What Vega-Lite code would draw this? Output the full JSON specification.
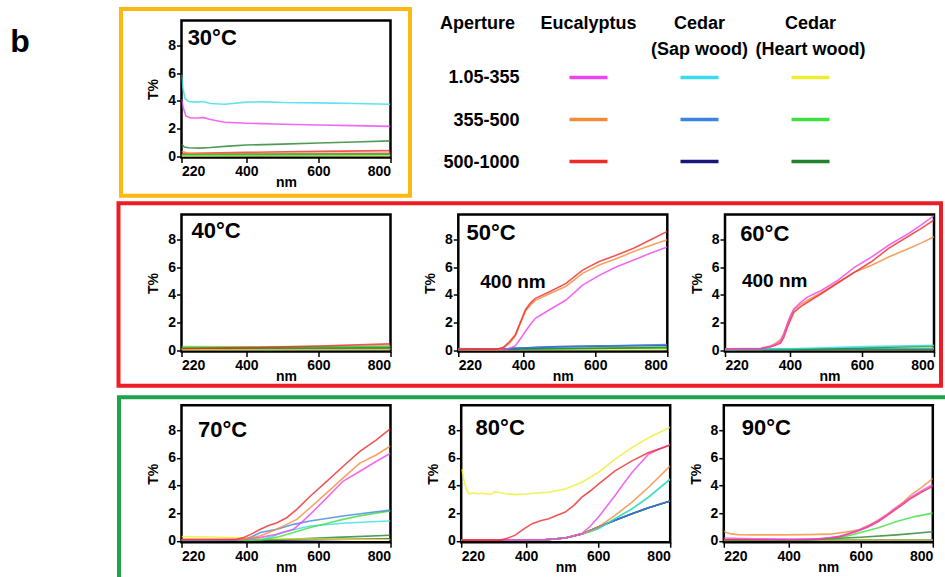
{
"$schema": "https://vega.github.io/schema/vega-lite/v6.json",
"background": "white",
"padding": {"left": 8, "top": 5.5, "right": 0, "bottom": 0},
"config": {
  "font": "Liberation Sans",
  "view": {"stroke": null},
  "axis": {"grid": false, "domain": false, "labelOverlap": false, "tickCount": 10, "labelFont": "Liberation Sans", "labelFontSize": 14, "labelFontWeight": "bold", "labelColor": "#000", "titleFont": "Liberation Sans", "titleFontSize": 14, "titleFontWeight": "bold", "titleColor": "#000", "tickColor": "#000", "tickWidth": 1.5, "tickSize": 5, "labelPadding": 1},
  "axisY": {"titlePadding": 7},
  "axisX": {"titlePadding": -3, "labelPadding": 2},
  "text": {"font": "Liberation Sans", "color": "#000"}
},
"datasets": {
"spectra": [
{"T":30,"s":"Sap wood 1.05-355","nm":220,"v":5.9},{"T":30,"s":"Sap wood 1.05-355","nm":224,"v":4.9},{"T":30,"s":"Sap wood 1.05-355","nm":230,"v":4.15},{"T":30,"s":"Sap wood 1.05-355","nm":240,"v":3.95},{"T":30,"s":"Sap wood 1.05-355","nm":260,"v":3.9},{"T":30,"s":"Sap wood 1.05-355","nm":280,"v":3.95},{"T":30,"s":"Sap wood 1.05-355","nm":300,"v":3.8},{"T":30,"s":"Sap wood 1.05-355","nm":340,"v":3.75},{"T":30,"s":"Sap wood 1.05-355","nm":400,"v":3.9},{"T":30,"s":"Sap wood 1.05-355","nm":450,"v":3.92},{"T":30,"s":"Sap wood 1.05-355","nm":500,"v":3.87},{"T":30,"s":"Sap wood 1.05-355","nm":600,"v":3.85},{"T":30,"s":"Sap wood 1.05-355","nm":700,"v":3.8},{"T":30,"s":"Sap wood 1.05-355","nm":800,"v":3.75},
{"T":30,"s":"Eucalyptus 1.05-355","nm":220,"v":4.1},{"T":30,"s":"Eucalyptus 1.05-355","nm":225,"v":3.5},{"T":30,"s":"Eucalyptus 1.05-355","nm":232,"v":2.9},{"T":30,"s":"Eucalyptus 1.05-355","nm":245,"v":2.75},{"T":30,"s":"Eucalyptus 1.05-355","nm":265,"v":2.75},{"T":30,"s":"Eucalyptus 1.05-355","nm":280,"v":2.8},{"T":30,"s":"Eucalyptus 1.05-355","nm":300,"v":2.65},{"T":30,"s":"Eucalyptus 1.05-355","nm":340,"v":2.45},{"T":30,"s":"Eucalyptus 1.05-355","nm":400,"v":2.38},{"T":30,"s":"Eucalyptus 1.05-355","nm":500,"v":2.3},{"T":30,"s":"Eucalyptus 1.05-355","nm":600,"v":2.25},{"T":30,"s":"Eucalyptus 1.05-355","nm":700,"v":2.2},{"T":30,"s":"Eucalyptus 1.05-355","nm":800,"v":2.15},
{"T":30,"s":"Heart wood 500-1000","nm":220,"v":0.85},{"T":30,"s":"Heart wood 500-1000","nm":228,"v":0.65},{"T":30,"s":"Heart wood 500-1000","nm":240,"v":0.6},{"T":30,"s":"Heart wood 500-1000","nm":270,"v":0.58},{"T":30,"s":"Heart wood 500-1000","nm":300,"v":0.62},{"T":30,"s":"Heart wood 500-1000","nm":350,"v":0.72},{"T":30,"s":"Heart wood 500-1000","nm":400,"v":0.8},{"T":30,"s":"Heart wood 500-1000","nm":500,"v":0.87},{"T":30,"s":"Heart wood 500-1000","nm":600,"v":0.95},{"T":30,"s":"Heart wood 500-1000","nm":700,"v":1.02},{"T":30,"s":"Heart wood 500-1000","nm":800,"v":1.1},
{"T":30,"s":"Eucalyptus 500-1000","nm":220,"v":0.18},{"T":30,"s":"Eucalyptus 500-1000","nm":400,"v":0.27},{"T":30,"s":"Eucalyptus 500-1000","nm":600,"v":0.34},{"T":30,"s":"Eucalyptus 500-1000","nm":800,"v":0.4},
{"T":30,"s":"Eucalyptus 355-500","nm":220,"v":0.35},{"T":30,"s":"Eucalyptus 355-500","nm":240,"v":0.2},{"T":30,"s":"Eucalyptus 355-500","nm":400,"v":0.18},{"T":30,"s":"Eucalyptus 355-500","nm":600,"v":0.2},{"T":30,"s":"Eucalyptus 355-500","nm":800,"v":0.22},
{"T":30,"s":"Sap wood 355-500","nm":220,"v":0.05},{"T":30,"s":"Sap wood 355-500","nm":500,"v":0.07},{"T":30,"s":"Sap wood 355-500","nm":800,"v":0.1},
{"T":30,"s":"Sap wood 500-1000","nm":220,"v":0.1},{"T":30,"s":"Sap wood 500-1000","nm":800,"v":0.14},
{"T":30,"s":"Heart wood 1.05-355","nm":220,"v":0.02},{"T":30,"s":"Heart wood 1.05-355","nm":800,"v":0.03},
{"T":30,"s":"Heart wood 355-500","nm":220,"v":0.1},{"T":30,"s":"Heart wood 355-500","nm":800,"v":0.12},

{"T":40,"s":"Eucalyptus 1.05-355","nm":220,"v":0.08},{"T":40,"s":"Eucalyptus 1.05-355","nm":800,"v":0.15},
{"T":40,"s":"Eucalyptus 355-500","nm":220,"v":0.1},{"T":40,"s":"Eucalyptus 355-500","nm":500,"v":0.18},{"T":40,"s":"Eucalyptus 355-500","nm":800,"v":0.3},
{"T":40,"s":"Sap wood 1.05-355","nm":220,"v":0.1},{"T":40,"s":"Sap wood 1.05-355","nm":800,"v":0.12},
{"T":40,"s":"Sap wood 355-500","nm":220,"v":0.06},{"T":40,"s":"Sap wood 355-500","nm":800,"v":0.1},
{"T":40,"s":"Sap wood 500-1000","nm":220,"v":0.05},{"T":40,"s":"Sap wood 500-1000","nm":800,"v":0.08},
{"T":40,"s":"Heart wood 1.05-355","nm":220,"v":0.03},{"T":40,"s":"Heart wood 1.05-355","nm":800,"v":0.05},
{"T":40,"s":"Heart wood 500-1000","nm":220,"v":0.15},{"T":40,"s":"Heart wood 500-1000","nm":800,"v":0.2},
{"T":40,"s":"Heart wood 355-500","nm":220,"v":0.25},{"T":40,"s":"Heart wood 355-500","nm":400,"v":0.24},{"T":40,"s":"Heart wood 355-500","nm":600,"v":0.25},{"T":40,"s":"Heart wood 355-500","nm":800,"v":0.28},
{"T":40,"s":"Eucalyptus 500-1000","nm":220,"v":0.12},{"T":40,"s":"Eucalyptus 500-1000","nm":400,"v":0.18},{"T":40,"s":"Eucalyptus 500-1000","nm":600,"v":0.3},{"T":40,"s":"Eucalyptus 500-1000","nm":800,"v":0.45},

{"T":50,"s":"Heart wood 1.05-355","nm":220,"v":0.02},{"T":50,"s":"Heart wood 1.05-355","nm":800,"v":0.05},
{"T":50,"s":"Sap wood 1.05-355","nm":220,"v":0.12},{"T":50,"s":"Sap wood 1.05-355","nm":300,"v":0.1},{"T":50,"s":"Sap wood 1.05-355","nm":400,"v":0.1},{"T":50,"s":"Sap wood 1.05-355","nm":800,"v":0.15},
{"T":50,"s":"Heart wood 355-500","nm":220,"v":0.05},{"T":50,"s":"Heart wood 355-500","nm":400,"v":0.08},{"T":50,"s":"Heart wood 355-500","nm":600,"v":0.15},{"T":50,"s":"Heart wood 355-500","nm":800,"v":0.22},
{"T":50,"s":"Heart wood 500-1000","nm":220,"v":0.05},{"T":50,"s":"Heart wood 500-1000","nm":500,"v":0.1},{"T":50,"s":"Heart wood 500-1000","nm":800,"v":0.18},
{"T":50,"s":"Sap wood 500-1000","nm":220,"v":0.05},{"T":50,"s":"Sap wood 500-1000","nm":350,"v":0.1},{"T":50,"s":"Sap wood 500-1000","nm":500,"v":0.25},{"T":50,"s":"Sap wood 500-1000","nm":800,"v":0.35},
{"T":50,"s":"Sap wood 355-500","nm":220,"v":0.05},{"T":50,"s":"Sap wood 355-500","nm":350,"v":0.1},{"T":50,"s":"Sap wood 355-500","nm":450,"v":0.2},{"T":50,"s":"Sap wood 355-500","nm":600,"v":0.3},{"T":50,"s":"Sap wood 355-500","nm":800,"v":0.4},
{"T":50,"s":"Eucalyptus 1.05-355","nm":220,"v":0.05},{"T":50,"s":"Eucalyptus 1.05-355","nm":345,"v":0.05},{"T":50,"s":"Eucalyptus 1.05-355","nm":362,"v":0.12},{"T":50,"s":"Eucalyptus 1.05-355","nm":378,"v":0.3},{"T":50,"s":"Eucalyptus 1.05-355","nm":392,"v":0.8},{"T":50,"s":"Eucalyptus 1.05-355","nm":406,"v":1.34},{"T":50,"s":"Eucalyptus 1.05-355","nm":420,"v":1.85},{"T":50,"s":"Eucalyptus 1.05-355","nm":434,"v":2.3},{"T":50,"s":"Eucalyptus 1.05-355","nm":472,"v":2.9},{"T":50,"s":"Eucalyptus 1.05-355","nm":518,"v":3.6},{"T":50,"s":"Eucalyptus 1.05-355","nm":565,"v":4.7},{"T":50,"s":"Eucalyptus 1.05-355","nm":611,"v":5.4},{"T":50,"s":"Eucalyptus 1.05-355","nm":658,"v":6.0},{"T":50,"s":"Eucalyptus 1.05-355","nm":705,"v":6.5},{"T":50,"s":"Eucalyptus 1.05-355","nm":751,"v":6.98},{"T":50,"s":"Eucalyptus 1.05-355","nm":800,"v":7.45},
{"T":50,"s":"Eucalyptus 355-500","nm":220,"v":0.05},{"T":50,"s":"Eucalyptus 355-500","nm":330,"v":0.05},{"T":50,"s":"Eucalyptus 355-500","nm":348,"v":0.2},{"T":50,"s":"Eucalyptus 355-500","nm":364,"v":0.55},{"T":50,"s":"Eucalyptus 355-500","nm":378,"v":1.0},{"T":50,"s":"Eucalyptus 355-500","nm":392,"v":1.9},{"T":50,"s":"Eucalyptus 355-500","nm":406,"v":2.8},{"T":50,"s":"Eucalyptus 355-500","nm":420,"v":3.25},{"T":50,"s":"Eucalyptus 355-500","nm":434,"v":3.6},{"T":50,"s":"Eucalyptus 355-500","nm":472,"v":4.05},{"T":50,"s":"Eucalyptus 355-500","nm":518,"v":4.6},{"T":50,"s":"Eucalyptus 355-500","nm":565,"v":5.55},{"T":50,"s":"Eucalyptus 355-500","nm":611,"v":6.15},{"T":50,"s":"Eucalyptus 355-500","nm":658,"v":6.6},{"T":50,"s":"Eucalyptus 355-500","nm":705,"v":7.1},{"T":50,"s":"Eucalyptus 355-500","nm":751,"v":7.55},{"T":50,"s":"Eucalyptus 355-500","nm":800,"v":7.98},
{"T":50,"s":"Eucalyptus 500-1000","nm":220,"v":0.05},{"T":50,"s":"Eucalyptus 500-1000","nm":325,"v":0.05},{"T":50,"s":"Eucalyptus 500-1000","nm":345,"v":0.2},{"T":50,"s":"Eucalyptus 500-1000","nm":362,"v":0.6},{"T":50,"s":"Eucalyptus 500-1000","nm":378,"v":1.1},{"T":50,"s":"Eucalyptus 500-1000","nm":392,"v":2.0},{"T":50,"s":"Eucalyptus 500-1000","nm":406,"v":2.9},{"T":50,"s":"Eucalyptus 500-1000","nm":420,"v":3.4},{"T":50,"s":"Eucalyptus 500-1000","nm":434,"v":3.74},{"T":50,"s":"Eucalyptus 500-1000","nm":472,"v":4.2},{"T":50,"s":"Eucalyptus 500-1000","nm":518,"v":4.8},{"T":50,"s":"Eucalyptus 500-1000","nm":565,"v":5.78},{"T":50,"s":"Eucalyptus 500-1000","nm":611,"v":6.4},{"T":50,"s":"Eucalyptus 500-1000","nm":658,"v":6.86},{"T":50,"s":"Eucalyptus 500-1000","nm":705,"v":7.34},{"T":50,"s":"Eucalyptus 500-1000","nm":751,"v":7.94},{"T":50,"s":"Eucalyptus 500-1000","nm":800,"v":8.58},

{"T":60,"s":"Heart wood 1.05-355","nm":220,"v":0.02},{"T":60,"s":"Heart wood 1.05-355","nm":800,"v":0.05},
{"T":60,"s":"Sap wood 500-1000","nm":220,"v":0.03},{"T":60,"s":"Sap wood 500-1000","nm":800,"v":0.08},
{"T":60,"s":"Sap wood 355-500","nm":220,"v":0.05},{"T":60,"s":"Sap wood 355-500","nm":800,"v":0.1},
{"T":60,"s":"Heart wood 355-500","nm":220,"v":0.05},{"T":60,"s":"Heart wood 355-500","nm":800,"v":0.15},
{"T":60,"s":"Heart wood 500-1000","nm":220,"v":0.03},{"T":60,"s":"Heart wood 500-1000","nm":400,"v":0.05},{"T":60,"s":"Heart wood 500-1000","nm":600,"v":0.15},{"T":60,"s":"Heart wood 500-1000","nm":800,"v":0.3},
{"T":60,"s":"Sap wood 1.05-355","nm":220,"v":0.05},{"T":60,"s":"Sap wood 1.05-355","nm":400,"v":0.1},{"T":60,"s":"Sap wood 1.05-355","nm":600,"v":0.25},{"T":60,"s":"Sap wood 1.05-355","nm":800,"v":0.35},
{"T":60,"s":"Eucalyptus 355-500","nm":220,"v":0.1},{"T":60,"s":"Eucalyptus 355-500","nm":320,"v":0.14},{"T":60,"s":"Eucalyptus 355-500","nm":345,"v":0.3},{"T":60,"s":"Eucalyptus 355-500","nm":360,"v":0.48},{"T":60,"s":"Eucalyptus 355-500","nm":374,"v":0.75},{"T":60,"s":"Eucalyptus 355-500","nm":383,"v":1.2},{"T":60,"s":"Eucalyptus 355-500","nm":393,"v":1.9},{"T":60,"s":"Eucalyptus 355-500","nm":402,"v":2.45},{"T":60,"s":"Eucalyptus 355-500","nm":411,"v":2.9},{"T":60,"s":"Eucalyptus 355-500","nm":430,"v":3.3},{"T":60,"s":"Eucalyptus 355-500","nm":449,"v":3.6},{"T":60,"s":"Eucalyptus 355-500","nm":487,"v":4.15},{"T":60,"s":"Eucalyptus 355-500","nm":533,"v":4.9},{"T":60,"s":"Eucalyptus 355-500","nm":580,"v":5.64},{"T":60,"s":"Eucalyptus 355-500","nm":627,"v":6.13},{"T":60,"s":"Eucalyptus 355-500","nm":674,"v":6.73},{"T":60,"s":"Eucalyptus 355-500","nm":730,"v":7.35},{"T":60,"s":"Eucalyptus 355-500","nm":765,"v":7.75},{"T":60,"s":"Eucalyptus 355-500","nm":800,"v":8.19},
{"T":60,"s":"Eucalyptus 500-1000","nm":220,"v":0.1},{"T":60,"s":"Eucalyptus 500-1000","nm":320,"v":0.12},{"T":60,"s":"Eucalyptus 500-1000","nm":345,"v":0.22},{"T":60,"s":"Eucalyptus 500-1000","nm":360,"v":0.35},{"T":60,"s":"Eucalyptus 500-1000","nm":374,"v":0.5},{"T":60,"s":"Eucalyptus 500-1000","nm":383,"v":0.9},{"T":60,"s":"Eucalyptus 500-1000","nm":393,"v":1.64},{"T":60,"s":"Eucalyptus 500-1000","nm":402,"v":2.2},{"T":60,"s":"Eucalyptus 500-1000","nm":411,"v":2.73},{"T":60,"s":"Eucalyptus 500-1000","nm":430,"v":3.15},{"T":60,"s":"Eucalyptus 500-1000","nm":449,"v":3.46},{"T":60,"s":"Eucalyptus 500-1000","nm":487,"v":4.07},{"T":60,"s":"Eucalyptus 500-1000","nm":533,"v":4.85},{"T":60,"s":"Eucalyptus 500-1000","nm":580,"v":5.64},{"T":60,"s":"Eucalyptus 500-1000","nm":627,"v":6.4},{"T":60,"s":"Eucalyptus 500-1000","nm":674,"v":7.35},{"T":60,"s":"Eucalyptus 500-1000","nm":730,"v":8.25},{"T":60,"s":"Eucalyptus 500-1000","nm":765,"v":8.8},{"T":60,"s":"Eucalyptus 500-1000","nm":800,"v":9.4},
{"T":60,"s":"Eucalyptus 1.05-355","nm":220,"v":0.1},{"T":60,"s":"Eucalyptus 1.05-355","nm":320,"v":0.12},{"T":60,"s":"Eucalyptus 1.05-355","nm":345,"v":0.25},{"T":60,"s":"Eucalyptus 1.05-355","nm":360,"v":0.4},{"T":60,"s":"Eucalyptus 1.05-355","nm":374,"v":0.65},{"T":60,"s":"Eucalyptus 1.05-355","nm":383,"v":1.1},{"T":60,"s":"Eucalyptus 1.05-355","nm":393,"v":1.9},{"T":60,"s":"Eucalyptus 1.05-355","nm":402,"v":2.5},{"T":60,"s":"Eucalyptus 1.05-355","nm":411,"v":2.98},{"T":60,"s":"Eucalyptus 1.05-355","nm":430,"v":3.45},{"T":60,"s":"Eucalyptus 1.05-355","nm":449,"v":3.83},{"T":60,"s":"Eucalyptus 1.05-355","nm":487,"v":4.31},{"T":60,"s":"Eucalyptus 1.05-355","nm":533,"v":5.04},{"T":60,"s":"Eucalyptus 1.05-355","nm":580,"v":6.0},{"T":60,"s":"Eucalyptus 1.05-355","nm":627,"v":6.73},{"T":60,"s":"Eucalyptus 1.05-355","nm":674,"v":7.58},{"T":60,"s":"Eucalyptus 1.05-355","nm":730,"v":8.44},{"T":60,"s":"Eucalyptus 1.05-355","nm":765,"v":9.05},{"T":60,"s":"Eucalyptus 1.05-355","nm":800,"v":9.72},

{"T":70,"s":"Sap wood 500-1000","nm":220,"v":0.03},{"T":70,"s":"Sap wood 500-1000","nm":500,"v":0.05},{"T":70,"s":"Sap wood 500-1000","nm":800,"v":0.15},
{"T":70,"s":"Heart wood 500-1000","nm":220,"v":0.03},{"T":70,"s":"Heart wood 500-1000","nm":450,"v":0.05},{"T":70,"s":"Heart wood 500-1000","nm":550,"v":0.15},{"T":70,"s":"Heart wood 500-1000","nm":650,"v":0.25},{"T":70,"s":"Heart wood 500-1000","nm":800,"v":0.4},
{"T":70,"s":"Heart wood 1.05-355","nm":220,"v":0.3},{"T":70,"s":"Heart wood 1.05-355","nm":300,"v":0.28},{"T":70,"s":"Heart wood 1.05-355","nm":380,"v":0.22},{"T":70,"s":"Heart wood 1.05-355","nm":450,"v":0.15},{"T":70,"s":"Heart wood 1.05-355","nm":800,"v":0.1},
{"T":70,"s":"Sap wood 1.05-355","nm":220,"v":0.05},{"T":70,"s":"Sap wood 1.05-355","nm":440,"v":0.08},{"T":70,"s":"Sap wood 1.05-355","nm":470,"v":0.3},{"T":70,"s":"Sap wood 1.05-355","nm":500,"v":0.6},{"T":70,"s":"Sap wood 1.05-355","nm":531,"v":0.8},{"T":70,"s":"Sap wood 1.05-355","nm":577,"v":1.07},{"T":70,"s":"Sap wood 1.05-355","nm":668,"v":1.27},{"T":70,"s":"Sap wood 1.05-355","nm":760,"v":1.4},{"T":70,"s":"Sap wood 1.05-355","nm":800,"v":1.43},
{"T":70,"s":"Heart wood 355-500","nm":220,"v":0.05},{"T":70,"s":"Heart wood 355-500","nm":420,"v":0.05},{"T":70,"s":"Heart wood 355-500","nm":450,"v":0.1},{"T":70,"s":"Heart wood 355-500","nm":490,"v":0.3},{"T":70,"s":"Heart wood 355-500","nm":531,"v":0.6},{"T":70,"s":"Heart wood 355-500","nm":577,"v":0.96},{"T":70,"s":"Heart wood 355-500","nm":623,"v":1.25},{"T":70,"s":"Heart wood 355-500","nm":668,"v":1.55},{"T":70,"s":"Heart wood 355-500","nm":714,"v":1.8},{"T":70,"s":"Heart wood 355-500","nm":760,"v":2.0},{"T":70,"s":"Heart wood 355-500","nm":800,"v":2.15},
{"T":70,"s":"Sap wood 355-500","nm":220,"v":0.05},{"T":70,"s":"Sap wood 355-500","nm":370,"v":0.05},{"T":70,"s":"Sap wood 355-500","nm":393,"v":0.1},{"T":70,"s":"Sap wood 355-500","nm":415,"v":0.3},{"T":70,"s":"Sap wood 355-500","nm":439,"v":0.6},{"T":70,"s":"Sap wood 355-500","nm":485,"v":0.84},{"T":70,"s":"Sap wood 355-500","nm":531,"v":1.19},{"T":70,"s":"Sap wood 355-500","nm":577,"v":1.43},{"T":70,"s":"Sap wood 355-500","nm":668,"v":1.79},{"T":70,"s":"Sap wood 355-500","nm":760,"v":2.1},{"T":70,"s":"Sap wood 355-500","nm":800,"v":2.22},
{"T":70,"s":"Eucalyptus 1.05-355","nm":220,"v":0.1},{"T":70,"s":"Eucalyptus 1.05-355","nm":390,"v":0.1},{"T":70,"s":"Eucalyptus 1.05-355","nm":440,"v":0.25},{"T":70,"s":"Eucalyptus 1.05-355","nm":485,"v":0.48},{"T":70,"s":"Eucalyptus 1.05-355","nm":531,"v":0.84},{"T":70,"s":"Eucalyptus 1.05-355","nm":554,"v":1.35},{"T":70,"s":"Eucalyptus 1.05-355","nm":577,"v":1.91},{"T":70,"s":"Eucalyptus 1.05-355","nm":623,"v":3.1},{"T":70,"s":"Eucalyptus 1.05-355","nm":668,"v":4.3},{"T":70,"s":"Eucalyptus 1.05-355","nm":714,"v":5.01},{"T":70,"s":"Eucalyptus 1.05-355","nm":760,"v":5.73},{"T":70,"s":"Eucalyptus 1.05-355","nm":800,"v":6.33},
{"T":70,"s":"Eucalyptus 355-500","nm":220,"v":0.1},{"T":70,"s":"Eucalyptus 355-500","nm":380,"v":0.1},{"T":70,"s":"Eucalyptus 355-500","nm":410,"v":0.2},{"T":70,"s":"Eucalyptus 355-500","nm":439,"v":0.36},{"T":70,"s":"Eucalyptus 355-500","nm":462,"v":0.6},{"T":70,"s":"Eucalyptus 355-500","nm":485,"v":0.85},{"T":70,"s":"Eucalyptus 355-500","nm":512,"v":1.19},{"T":70,"s":"Eucalyptus 355-500","nm":540,"v":1.55},{"T":70,"s":"Eucalyptus 355-500","nm":577,"v":2.39},{"T":70,"s":"Eucalyptus 355-500","nm":623,"v":3.46},{"T":70,"s":"Eucalyptus 355-500","nm":668,"v":4.53},{"T":70,"s":"Eucalyptus 355-500","nm":714,"v":5.6},{"T":70,"s":"Eucalyptus 355-500","nm":760,"v":6.2},{"T":70,"s":"Eucalyptus 355-500","nm":800,"v":6.85},
{"T":70,"s":"Eucalyptus 500-1000","nm":220,"v":0.1},{"T":70,"s":"Eucalyptus 500-1000","nm":370,"v":0.1},{"T":70,"s":"Eucalyptus 500-1000","nm":393,"v":0.24},{"T":70,"s":"Eucalyptus 500-1000","nm":415,"v":0.5},{"T":70,"s":"Eucalyptus 500-1000","nm":439,"v":0.84},{"T":70,"s":"Eucalyptus 500-1000","nm":462,"v":1.1},{"T":70,"s":"Eucalyptus 500-1000","nm":485,"v":1.31},{"T":70,"s":"Eucalyptus 500-1000","nm":512,"v":1.67},{"T":70,"s":"Eucalyptus 500-1000","nm":540,"v":2.27},{"T":70,"s":"Eucalyptus 500-1000","nm":577,"v":3.22},{"T":70,"s":"Eucalyptus 500-1000","nm":623,"v":4.3},{"T":70,"s":"Eucalyptus 500-1000","nm":668,"v":5.37},{"T":70,"s":"Eucalyptus 500-1000","nm":714,"v":6.45},{"T":70,"s":"Eucalyptus 500-1000","nm":760,"v":7.28},{"T":70,"s":"Eucalyptus 500-1000","nm":800,"v":8.1},

{"T":80,"s":"Heart wood 500-1000","nm":220,"v":0.05},{"T":80,"s":"Heart wood 500-1000","nm":450,"v":0.07},{"T":80,"s":"Heart wood 500-1000","nm":509,"v":0.2},{"T":80,"s":"Heart wood 500-1000","nm":555,"v":0.5},{"T":80,"s":"Heart wood 500-1000","nm":578,"v":0.75},{"T":80,"s":"Heart wood 500-1000","nm":601,"v":1.0},{"T":80,"s":"Heart wood 500-1000","nm":647,"v":1.48},{"T":80,"s":"Heart wood 500-1000","nm":694,"v":1.96},{"T":80,"s":"Heart wood 500-1000","nm":740,"v":2.39},{"T":80,"s":"Heart wood 500-1000","nm":800,"v":2.87},
{"T":80,"s":"Heart wood 355-500","nm":220,"v":0.05},{"T":80,"s":"Heart wood 355-500","nm":450,"v":0.07},{"T":80,"s":"Heart wood 355-500","nm":509,"v":0.2},{"T":80,"s":"Heart wood 355-500","nm":555,"v":0.5},{"T":80,"s":"Heart wood 355-500","nm":578,"v":0.68},{"T":80,"s":"Heart wood 355-500","nm":601,"v":0.88},{"T":80,"s":"Heart wood 355-500","nm":647,"v":1.6},{"T":80,"s":"Heart wood 355-500","nm":694,"v":2.31},{"T":80,"s":"Heart wood 355-500","nm":740,"v":3.15},{"T":80,"s":"Heart wood 355-500","nm":800,"v":4.46},
{"T":80,"s":"Sap wood 500-1000","nm":220,"v":0.05},{"T":80,"s":"Sap wood 500-1000","nm":450,"v":0.07},{"T":80,"s":"Sap wood 500-1000","nm":509,"v":0.2},{"T":80,"s":"Sap wood 500-1000","nm":555,"v":0.5},{"T":80,"s":"Sap wood 500-1000","nm":578,"v":0.75},{"T":80,"s":"Sap wood 500-1000","nm":601,"v":1.0},{"T":80,"s":"Sap wood 500-1000","nm":647,"v":1.48},{"T":80,"s":"Sap wood 500-1000","nm":694,"v":1.96},{"T":80,"s":"Sap wood 500-1000","nm":740,"v":2.39},{"T":80,"s":"Sap wood 500-1000","nm":800,"v":2.87},
{"T":80,"s":"Sap wood 355-500","nm":220,"v":0.05},{"T":80,"s":"Sap wood 355-500","nm":450,"v":0.07},{"T":80,"s":"Sap wood 355-500","nm":509,"v":0.2},{"T":80,"s":"Sap wood 355-500","nm":555,"v":0.5},{"T":80,"s":"Sap wood 355-500","nm":578,"v":0.75},{"T":80,"s":"Sap wood 355-500","nm":601,"v":1.0},{"T":80,"s":"Sap wood 355-500","nm":647,"v":1.48},{"T":80,"s":"Sap wood 355-500","nm":694,"v":1.96},{"T":80,"s":"Sap wood 355-500","nm":740,"v":2.39},{"T":80,"s":"Sap wood 355-500","nm":800,"v":2.87},
{"T":80,"s":"Sap wood 1.05-355","nm":220,"v":0.05},{"T":80,"s":"Sap wood 1.05-355","nm":450,"v":0.07},{"T":80,"s":"Sap wood 1.05-355","nm":509,"v":0.2},{"T":80,"s":"Sap wood 1.05-355","nm":555,"v":0.5},{"T":80,"s":"Sap wood 1.05-355","nm":578,"v":0.68},{"T":80,"s":"Sap wood 1.05-355","nm":601,"v":0.88},{"T":80,"s":"Sap wood 1.05-355","nm":647,"v":1.6},{"T":80,"s":"Sap wood 1.05-355","nm":694,"v":2.31},{"T":80,"s":"Sap wood 1.05-355","nm":740,"v":3.15},{"T":80,"s":"Sap wood 1.05-355","nm":800,"v":4.46},
{"T":80,"s":"Eucalyptus 355-500","nm":220,"v":0.05},{"T":80,"s":"Eucalyptus 355-500","nm":450,"v":0.07},{"T":80,"s":"Eucalyptus 355-500","nm":509,"v":0.2},{"T":80,"s":"Eucalyptus 355-500","nm":555,"v":0.5},{"T":80,"s":"Eucalyptus 355-500","nm":578,"v":0.75},{"T":80,"s":"Eucalyptus 355-500","nm":601,"v":1.0},{"T":80,"s":"Eucalyptus 355-500","nm":647,"v":1.84},{"T":80,"s":"Eucalyptus 355-500","nm":694,"v":2.79},{"T":80,"s":"Eucalyptus 355-500","nm":740,"v":3.87},{"T":80,"s":"Eucalyptus 355-500","nm":800,"v":5.42},
{"T":80,"s":"Eucalyptus 1.05-355","nm":220,"v":0.05},{"T":80,"s":"Eucalyptus 1.05-355","nm":450,"v":0.08},{"T":80,"s":"Eucalyptus 1.05-355","nm":486,"v":0.15},{"T":80,"s":"Eucalyptus 1.05-355","nm":509,"v":0.22},{"T":80,"s":"Eucalyptus 1.05-355","nm":532,"v":0.35},{"T":80,"s":"Eucalyptus 1.05-355","nm":555,"v":0.52},{"T":80,"s":"Eucalyptus 1.05-355","nm":578,"v":1.05},{"T":80,"s":"Eucalyptus 1.05-355","nm":601,"v":1.72},{"T":80,"s":"Eucalyptus 1.05-355","nm":624,"v":2.5},{"T":80,"s":"Eucalyptus 1.05-355","nm":647,"v":3.27},{"T":80,"s":"Eucalyptus 1.05-355","nm":670,"v":4.1},{"T":80,"s":"Eucalyptus 1.05-355","nm":694,"v":4.94},{"T":80,"s":"Eucalyptus 1.05-355","nm":717,"v":5.6},{"T":80,"s":"Eucalyptus 1.05-355","nm":740,"v":6.26},{"T":80,"s":"Eucalyptus 1.05-355","nm":767,"v":6.6},{"T":80,"s":"Eucalyptus 1.05-355","nm":800,"v":6.97},
{"T":80,"s":"Eucalyptus 500-1000","nm":220,"v":0.05},{"T":80,"s":"Eucalyptus 500-1000","nm":330,"v":0.05},{"T":80,"s":"Eucalyptus 500-1000","nm":350,"v":0.2},{"T":80,"s":"Eucalyptus 500-1000","nm":370,"v":0.41},{"T":80,"s":"Eucalyptus 500-1000","nm":393,"v":0.85},{"T":80,"s":"Eucalyptus 500-1000","nm":417,"v":1.24},{"T":80,"s":"Eucalyptus 500-1000","nm":440,"v":1.45},{"T":80,"s":"Eucalyptus 500-1000","nm":463,"v":1.6},{"T":80,"s":"Eucalyptus 500-1000","nm":486,"v":1.85},{"T":80,"s":"Eucalyptus 500-1000","nm":509,"v":2.08},{"T":80,"s":"Eucalyptus 500-1000","nm":532,"v":2.55},{"T":80,"s":"Eucalyptus 500-1000","nm":555,"v":3.15},{"T":80,"s":"Eucalyptus 500-1000","nm":578,"v":3.6},{"T":80,"s":"Eucalyptus 500-1000","nm":601,"v":4.1},{"T":80,"s":"Eucalyptus 500-1000","nm":647,"v":5.06},{"T":80,"s":"Eucalyptus 500-1000","nm":694,"v":5.78},{"T":80,"s":"Eucalyptus 500-1000","nm":740,"v":6.38},{"T":80,"s":"Eucalyptus 500-1000","nm":800,"v":6.9},
{"T":80,"s":"Heart wood 1.05-355","nm":222,"v":5.18},{"T":80,"s":"Heart wood 1.05-355","nm":226,"v":4.6},{"T":80,"s":"Heart wood 1.05-355","nm":230,"v":4.1},{"T":80,"s":"Heart wood 1.05-355","nm":235,"v":3.7},{"T":80,"s":"Heart wood 1.05-355","nm":241,"v":3.39},{"T":80,"s":"Heart wood 1.05-355","nm":255,"v":3.45},{"T":80,"s":"Heart wood 1.05-355","nm":265,"v":3.4},{"T":80,"s":"Heart wood 1.05-355","nm":278,"v":3.44},{"T":80,"s":"Heart wood 1.05-355","nm":295,"v":3.38},{"T":80,"s":"Heart wood 1.05-355","nm":306,"v":3.4},{"T":80,"s":"Heart wood 1.05-355","nm":312,"v":3.55},{"T":80,"s":"Heart wood 1.05-355","nm":320,"v":3.51},{"T":80,"s":"Heart wood 1.05-355","nm":345,"v":3.4},{"T":80,"s":"Heart wood 1.05-355","nm":370,"v":3.34},{"T":80,"s":"Heart wood 1.05-355","nm":400,"v":3.38},{"T":80,"s":"Heart wood 1.05-355","nm":430,"v":3.45},{"T":80,"s":"Heart wood 1.05-355","nm":463,"v":3.51},{"T":80,"s":"Heart wood 1.05-355","nm":509,"v":3.75},{"T":80,"s":"Heart wood 1.05-355","nm":555,"v":4.23},{"T":80,"s":"Heart wood 1.05-355","nm":601,"v":4.94},{"T":80,"s":"Heart wood 1.05-355","nm":647,"v":5.9},{"T":80,"s":"Heart wood 1.05-355","nm":694,"v":6.73},{"T":80,"s":"Heart wood 1.05-355","nm":740,"v":7.45},{"T":80,"s":"Heart wood 1.05-355","nm":800,"v":8.2},

{"T":90,"s":"Sap wood 1.05-355","nm":220,"v":0.06},{"T":90,"s":"Sap wood 1.05-355","nm":800,"v":0.08},
{"T":90,"s":"Sap wood 355-500","nm":220,"v":0.05},{"T":90,"s":"Sap wood 355-500","nm":800,"v":0.07},
{"T":90,"s":"Sap wood 500-1000","nm":220,"v":0.04},{"T":90,"s":"Sap wood 500-1000","nm":800,"v":0.06},
{"T":90,"s":"Heart wood 1.05-355","nm":220,"v":0.05},{"T":90,"s":"Heart wood 1.05-355","nm":800,"v":0.06},
{"T":90,"s":"Heart wood 500-1000","nm":220,"v":0.03},{"T":90,"s":"Heart wood 500-1000","nm":450,"v":0.05},{"T":90,"s":"Heart wood 500-1000","nm":500,"v":0.14},{"T":90,"s":"Heart wood 500-1000","nm":600,"v":0.26},{"T":90,"s":"Heart wood 500-1000","nm":700,"v":0.43},{"T":90,"s":"Heart wood 500-1000","nm":800,"v":0.65},
{"T":90,"s":"Heart wood 355-500","nm":220,"v":0.05},{"T":90,"s":"Heart wood 355-500","nm":450,"v":0.08},{"T":90,"s":"Heart wood 355-500","nm":500,"v":0.15},{"T":90,"s":"Heart wood 355-500","nm":558,"v":0.31},{"T":90,"s":"Heart wood 355-500","nm":600,"v":0.6},{"T":90,"s":"Heart wood 355-500","nm":649,"v":0.95},{"T":90,"s":"Heart wood 355-500","nm":700,"v":1.4},{"T":90,"s":"Heart wood 355-500","nm":750,"v":1.75},{"T":90,"s":"Heart wood 355-500","nm":800,"v":2.0},
{"T":90,"s":"Eucalyptus 355-500","nm":220,"v":0.7},{"T":90,"s":"Eucalyptus 355-500","nm":225,"v":0.62},{"T":90,"s":"Eucalyptus 355-500","nm":240,"v":0.5},{"T":90,"s":"Eucalyptus 355-500","nm":260,"v":0.45},{"T":90,"s":"Eucalyptus 355-500","nm":300,"v":0.43},{"T":90,"s":"Eucalyptus 355-500","nm":375,"v":0.43},{"T":90,"s":"Eucalyptus 355-500","nm":450,"v":0.45},{"T":90,"s":"Eucalyptus 355-500","nm":512,"v":0.48},{"T":90,"s":"Eucalyptus 355-500","nm":558,"v":0.63},{"T":90,"s":"Eucalyptus 355-500","nm":594,"v":0.79},{"T":90,"s":"Eucalyptus 355-500","nm":620,"v":1.1},{"T":90,"s":"Eucalyptus 355-500","nm":649,"v":1.51},{"T":90,"s":"Eucalyptus 355-500","nm":672,"v":1.9},{"T":90,"s":"Eucalyptus 355-500","nm":695,"v":2.36},{"T":90,"s":"Eucalyptus 355-500","nm":718,"v":2.8},{"T":90,"s":"Eucalyptus 355-500","nm":740,"v":3.32},{"T":90,"s":"Eucalyptus 355-500","nm":768,"v":3.85},{"T":90,"s":"Eucalyptus 355-500","nm":800,"v":4.5},
{"T":90,"s":"Eucalyptus 500-1000","nm":220,"v":0.08},{"T":90,"s":"Eucalyptus 500-1000","nm":400,"v":0.08},{"T":90,"s":"Eucalyptus 500-1000","nm":480,"v":0.12},{"T":90,"s":"Eucalyptus 500-1000","nm":512,"v":0.2},{"T":90,"s":"Eucalyptus 500-1000","nm":540,"v":0.3},{"T":90,"s":"Eucalyptus 500-1000","nm":558,"v":0.43},{"T":90,"s":"Eucalyptus 500-1000","nm":594,"v":0.72},{"T":90,"s":"Eucalyptus 500-1000","nm":620,"v":1.0},{"T":90,"s":"Eucalyptus 500-1000","nm":649,"v":1.4},{"T":90,"s":"Eucalyptus 500-1000","nm":672,"v":1.8},{"T":90,"s":"Eucalyptus 500-1000","nm":695,"v":2.24},{"T":90,"s":"Eucalyptus 500-1000","nm":718,"v":2.65},{"T":90,"s":"Eucalyptus 500-1000","nm":740,"v":3.08},{"T":90,"s":"Eucalyptus 500-1000","nm":768,"v":3.5},{"T":90,"s":"Eucalyptus 500-1000","nm":800,"v":3.95},
{"T":90,"s":"Eucalyptus 1.05-355","nm":220,"v":0.2},{"T":90,"s":"Eucalyptus 1.05-355","nm":300,"v":0.15},{"T":90,"s":"Eucalyptus 1.05-355","nm":400,"v":0.12},{"T":90,"s":"Eucalyptus 1.05-355","nm":480,"v":0.15},{"T":90,"s":"Eucalyptus 1.05-355","nm":512,"v":0.22},{"T":90,"s":"Eucalyptus 1.05-355","nm":540,"v":0.33},{"T":90,"s":"Eucalyptus 1.05-355","nm":558,"v":0.46},{"T":90,"s":"Eucalyptus 1.05-355","nm":594,"v":0.76},{"T":90,"s":"Eucalyptus 1.05-355","nm":620,"v":1.05},{"T":90,"s":"Eucalyptus 1.05-355","nm":649,"v":1.45},{"T":90,"s":"Eucalyptus 1.05-355","nm":672,"v":1.85},{"T":90,"s":"Eucalyptus 1.05-355","nm":695,"v":2.3},{"T":90,"s":"Eucalyptus 1.05-355","nm":718,"v":2.72},{"T":90,"s":"Eucalyptus 1.05-355","nm":740,"v":3.15},{"T":90,"s":"Eucalyptus 1.05-355","nm":768,"v":3.6},{"T":90,"s":"Eucalyptus 1.05-355","nm":800,"v":4.05}
]
},
"hconcat": [
 {"width": 24, "height": 42, "data": {"values": [{"t": "b"}]}, "mark": {"type": "text", "fontSize": 32, "fontWeight": "bold", "align": "center", "baseline": "middle"}, "encoding": {"text": {"field": "t"}}},
 {"vconcat": [
  {"vconcat": [
   {"hconcat": [
    {"width": 209, "height": 137, "view": {"stroke": "#000", "strokeWidth": 2.5},
     "layer": [
      {"data": {"values": [{}]}, "mark": {"type": "rect", "filled": false, "color": "#FBB911", "strokeWidth": 4},
       "encoding": {"x": {"datum": 52.1}, "x2": {"datum": 854.1}, "y": {"datum": 10.63}, "y2": {"datum": -2.868}}},
      {"data": {"name": "spectra"}, "transform": [{"filter": "datum.T == 30"}],
       "mark": {"type": "line", "strokeWidth": 1.6, "opacity": 0.8, "clip": true},
       "encoding": {
        "x": {"field": "nm", "type": "quantitative", "scale": {"domain": [220, 800], "nice": false, "zero": false}, "axis": {"values": [220, 400, 600, 800], "title": "nm", "labelFlush": true, "tickCount": 10}},
        "y": {"field": "v", "type": "quantitative", "scale": {"domain": [-0.1, 9.8], "nice": false, "zero": false}, "axis": {"values": [0, 2, 4, 6, 8], "title": "T%", "labelOverlap": false, "tickCount": 10}},
        "color": {"field": "s", "type": "nominal", "scale": {"domain": ["Eucalyptus 1.05-355","Eucalyptus 355-500","Eucalyptus 500-1000","Sap wood 1.05-355","Sap wood 355-500","Sap wood 500-1000","Heart wood 1.05-355","Heart wood 355-500","Heart wood 500-1000"], "range": ["#EE44EE","#F28C38","#EE2B2B","#38DCEC","#3A84E4","#18187C","#EEEE30","#3EDF3E","#23822C"]}, "legend": null}
       }},
      {"data": {"values": [{"label": "30°C"}]}, "mark": {"type": "text", "fontSize": 22, "fontWeight": "bold", "align": "left", "baseline": "middle"},
       "encoding": {"x": {"datum": 237}, "y": {"datum": 8.55}, "text": {"field": "label"}}}
     ]},
    {"width": 444, "height": 156,
     "layer": [
      {"data": {"values": [{"col": "Aperture", "row": "head", "text": "Aperture"}, {"col": "Eucalyptus", "row": "head", "text": "Eucalyptus"}, {"col": "Sap wood", "row": "head", "text": "Cedar\n(Sap wood)"}, {"col": "Heart wood", "row": "head", "text": "Cedar\n(Heart wood)"}]},
       "mark": {"type": "text", "fontSize": 18, "fontWeight": "bold", "align": "center", "baseline": "alphabetic", "dy": -6, "lineBreak": "\n", "lineHeight": 26},
       "encoding": {
        "x": {"field": "col", "type": "nominal", "scale": {"type": "point", "domain": ["Aperture", "Eucalyptus", "Sap wood", "Heart wood"], "padding": 0.5}, "axis": null},
        "y": {"field": "row", "type": "nominal", "scale": {"type": "point", "domain": ["head", "1.05-355", "355-500", "500-1000"], "padding": 0.357}, "axis": null},
        "text": {"field": "text"}}},
      {"data": {"values": [{"col": "Aperture", "row": "1.05-355", "text": "1.05-355"}, {"col": "Aperture", "row": "355-500", "text": "355-500"}, {"col": "Aperture", "row": "500-1000", "text": "500-1000"}]},
       "mark": {"type": "text", "fontSize": 18, "fontWeight": "bold", "align": "right", "baseline": "middle", "dx": 42, "dy": 1},
       "encoding": {
        "x": {"field": "col", "type": "nominal", "axis": null},
        "y": {"field": "row", "type": "nominal", "axis": null},
        "text": {"field": "text"}}},
      {"data": {"values": [
        {"col": "Eucalyptus", "row": "1.05-355", "s": "Eucalyptus 1.05-355"}, {"col": "Eucalyptus", "row": "355-500", "s": "Eucalyptus 355-500"}, {"col": "Eucalyptus", "row": "500-1000", "s": "Eucalyptus 500-1000"},
        {"col": "Sap wood", "row": "1.05-355", "s": "Sap wood 1.05-355"}, {"col": "Sap wood", "row": "355-500", "s": "Sap wood 355-500"}, {"col": "Sap wood", "row": "500-1000", "s": "Sap wood 500-1000"},
        {"col": "Heart wood", "row": "1.05-355", "s": "Heart wood 1.05-355"}, {"col": "Heart wood", "row": "355-500", "s": "Heart wood 355-500"}, {"col": "Heart wood", "row": "500-1000", "s": "Heart wood 500-1000"}]},
       "mark": {"type": "tick", "orient": "horizontal", "size": 38, "thickness": 3.5, "opacity": 1},
       "encoding": {
        "x": {"field": "col", "type": "nominal", "axis": null},
        "y": {"field": "row", "type": "nominal", "axis": null},
        "color": {"field": "s", "type": "nominal", "scale": {"domain": ["Eucalyptus 1.05-355","Eucalyptus 355-500","Eucalyptus 500-1000","Sap wood 1.05-355","Sap wood 355-500","Sap wood 500-1000","Heart wood 1.05-355","Heart wood 355-500","Heart wood 500-1000"], "range": ["#EE44EE","#F28C38","#EE2B2B","#38DCEC","#3A84E4","#18187C","#EEEE30","#3EDF3E","#23822C"]}, "legend": null}}}
     ]}
   ], "bounds": "flush", "spacing": 31.5},
   {"hconcat": [
    {"width": 209, "height": 137, "view": {"stroke": "#000", "strokeWidth": 2.5},
     "layer": [
      {"data": {"values": [{}]}, "mark": {"type": "rect", "filled": false, "color": "#EE1C24", "strokeWidth": 4},
       "encoding": {"x": {"datum": 45.17}, "x2": {"datum": 2327.7}, "y": {"datum": 10.617}, "y2": {"datum": -2.579}}},
      {"data": {"name": "spectra"}, "transform": [{"filter": "datum.T == 40"}],
       "mark": {"type": "line", "strokeWidth": 1.6, "opacity": 0.8, "clip": true},
       "encoding": {
        "x": {"field": "nm", "type": "quantitative", "scale": {"domain": [220, 800], "nice": false, "zero": false}, "axis": {"values": [220, 400, 600, 800], "title": "nm", "labelFlush": true, "tickCount": 10}},
        "y": {"field": "v", "type": "quantitative", "scale": {"domain": [-0.1, 9.8], "nice": false, "zero": false}, "axis": {"values": [0, 2, 4, 6, 8], "title": "T%", "labelOverlap": false, "tickCount": 10}},
        "color": {"field": "s", "type": "nominal", "scale": {"domain": ["Eucalyptus 1.05-355","Eucalyptus 355-500","Eucalyptus 500-1000","Sap wood 1.05-355","Sap wood 355-500","Sap wood 500-1000","Heart wood 1.05-355","Heart wood 355-500","Heart wood 500-1000"], "range": ["#EE44EE","#F28C38","#EE2B2B","#38DCEC","#3A84E4","#18187C","#EEEE30","#3EDF3E","#23822C"]}, "legend": null}
       }},
      {"data": {"values": [{"label": "40°C"}]}, "mark": {"type": "text", "fontSize": 22, "fontWeight": "bold", "align": "left", "baseline": "middle"},
       "encoding": {"x": {"datum": 248}, "y": {"datum": 8.6}, "text": {"field": "label"}}}
     ]},
    {"hconcat": [
     {"width": 209, "height": 137, "view": {"stroke": "#000", "strokeWidth": 2.5},
      "layer": [
       {"data": {"name": "spectra"}, "transform": [{"filter": "datum.T == 50"}],
        "mark": {"type": "line", "strokeWidth": 1.6, "opacity": 0.8, "clip": true},
        "encoding": {
         "x": {"field": "nm", "type": "quantitative", "scale": {"domain": [220, 800], "nice": false, "zero": false}, "axis": {"values": [220, 400, 600, 800], "title": "nm", "labelFlush": true, "tickCount": 10}},
         "y": {"field": "v", "type": "quantitative", "scale": {"domain": [-0.1, 9.8], "nice": false, "zero": false}, "axis": {"values": [0, 2, 4, 6, 8], "title": "T%", "labelOverlap": false, "tickCount": 10}},
         "color": {"field": "s", "type": "nominal", "scale": {"domain": ["Eucalyptus 1.05-355","Eucalyptus 355-500","Eucalyptus 500-1000","Sap wood 1.05-355","Sap wood 355-500","Sap wood 500-1000","Heart wood 1.05-355","Heart wood 355-500","Heart wood 500-1000"], "range": ["#EE44EE","#F28C38","#EE2B2B","#38DCEC","#3A84E4","#18187C","#EEEE30","#3EDF3E","#23822C"]}, "legend": null}
        }},
       {"data": {"values": [{"label": "50°C"}]}, "mark": {"type": "text", "fontSize": 22, "fontWeight": "bold", "align": "left", "baseline": "middle"},
        "encoding": {"x": {"datum": 243}, "y": {"datum": 8.46}, "text": {"field": "label"}}},
       {"data": {"values": [{"label": "400 nm"}]}, "mark": {"type": "text", "fontSize": 19, "fontWeight": "bold", "align": "left", "baseline": "middle"},
        "encoding": {"x": {"datum": 281}, "y": {"datum": 4.9}, "text": {"field": "label"}}}
      ]},
     {"width": 209, "height": 137, "view": {"stroke": "#000", "strokeWidth": 2.5},
      "layer": [
       {"data": {"name": "spectra"}, "transform": [{"filter": "datum.T == 60"}],
        "mark": {"type": "line", "strokeWidth": 1.6, "opacity": 0.8, "clip": true},
        "encoding": {
         "x": {"field": "nm", "type": "quantitative", "scale": {"domain": [220, 800], "nice": false, "zero": false}, "axis": {"values": [220, 400, 600, 800], "title": "nm", "labelFlush": true, "tickCount": 10}},
         "y": {"field": "v", "type": "quantitative", "scale": {"domain": [-0.1, 9.8], "nice": false, "zero": false}, "axis": {"values": [0, 2, 4, 6, 8], "title": "T%", "labelOverlap": false, "tickCount": 10}},
         "color": {"field": "s", "type": "nominal", "scale": {"domain": ["Eucalyptus 1.05-355","Eucalyptus 355-500","Eucalyptus 500-1000","Sap wood 1.05-355","Sap wood 355-500","Sap wood 500-1000","Heart wood 1.05-355","Heart wood 355-500","Heart wood 500-1000"], "range": ["#EE44EE","#F28C38","#EE2B2B","#38DCEC","#3A84E4","#18187C","#EEEE30","#3EDF3E","#23822C"]}, "legend": null}
        }},
       {"data": {"values": [{"label": "60°C"}]}, "mark": {"type": "text", "fontSize": 22, "fontWeight": "bold", "align": "left", "baseline": "middle"},
        "encoding": {"x": {"datum": 262}, "y": {"datum": 8.36}, "text": {"field": "label"}}},
       {"data": {"values": [{"label": "400 nm"}]}, "mark": {"type": "text", "fontSize": 19, "fontWeight": "bold", "align": "left", "baseline": "middle"},
        "encoding": {"x": {"datum": 267}, "y": {"datum": 4.97}, "text": {"field": "label"}}}
      ]}
    ], "bounds": "flush", "spacing": 57.7}
   ], "bounds": "flush", "spacing": 67.8}
  ], "spacing": 0},
  {"hconcat": [
   {"width": 209, "height": 137, "view": {"stroke": "#000", "strokeWidth": 2.5},
    "layer": [
     {"data": {"values": [{}]}, "mark": {"type": "rect", "filled": false, "color": "#1FA34A", "strokeWidth": 4},
      "encoding": {"x": {"datum": 46.55}, "x2": {"datum": 2354}, "y": {"datum": 10.378}, "y2": {"datum": -2.99}}},
     {"data": {"name": "spectra"}, "transform": [{"filter": "datum.T == 70"}],
      "mark": {"type": "line", "strokeWidth": 1.6, "opacity": 0.8, "clip": true},
      "encoding": {
       "x": {"field": "nm", "type": "quantitative", "scale": {"domain": [220, 800], "nice": false, "zero": false}, "axis": {"values": [220, 400, 600, 800], "title": "nm", "labelFlush": true, "tickCount": 10}},
       "y": {"field": "v", "type": "quantitative", "scale": {"domain": [-0.1, 9.8], "nice": false, "zero": false}, "axis": {"values": [0, 2, 4, 6, 8], "title": "T%", "labelOverlap": false, "tickCount": 10}},
       "color": {"field": "s", "type": "nominal", "scale": {"domain": ["Eucalyptus 1.05-355","Eucalyptus 355-500","Eucalyptus 500-1000","Sap wood 1.05-355","Sap wood 355-500","Sap wood 500-1000","Heart wood 1.05-355","Heart wood 355-500","Heart wood 500-1000"], "range": ["#EE44EE","#F28C38","#EE2B2B","#38DCEC","#3A84E4","#18187C","#EEEE30","#3EDF3E","#23822C"]}, "legend": null}
      }},
     {"data": {"values": [{"label": "70°C"}]}, "mark": {"type": "text", "fontSize": 22, "fontWeight": "bold", "align": "left", "baseline": "middle"},
      "encoding": {"x": {"datum": 266}, "y": {"datum": 8.0}, "text": {"field": "label"}}}
    ]},
   {"hconcat": [
    {"width": 209, "height": 137, "view": {"stroke": "#000", "strokeWidth": 2.5},
     "layer": [
      {"data": {"name": "spectra"}, "transform": [{"filter": "datum.T == 80"}],
       "mark": {"type": "line", "strokeWidth": 1.6, "opacity": 0.8, "clip": true},
       "encoding": {
        "x": {"field": "nm", "type": "quantitative", "scale": {"domain": [220, 800], "nice": false, "zero": false}, "axis": {"values": [220, 400, 600, 800], "title": "nm", "labelFlush": true, "tickCount": 10}},
        "y": {"field": "v", "type": "quantitative", "scale": {"domain": [-0.1, 9.8], "nice": false, "zero": false}, "axis": {"values": [0, 2, 4, 6, 8], "title": "T%", "labelOverlap": false, "tickCount": 10}},
        "color": {"field": "s", "type": "nominal", "scale": {"domain": ["Eucalyptus 1.05-355","Eucalyptus 355-500","Eucalyptus 500-1000","Sap wood 1.05-355","Sap wood 355-500","Sap wood 500-1000","Heart wood 1.05-355","Heart wood 355-500","Heart wood 500-1000"], "range": ["#EE44EE","#F28C38","#EE2B2B","#38DCEC","#3A84E4","#18187C","#EEEE30","#3EDF3E","#23822C"]}, "legend": null}
       }},
      {"data": {"values": [{"label": "80°C"}]}, "mark": {"type": "text", "fontSize": 22, "fontWeight": "bold", "align": "left", "baseline": "middle"},
       "encoding": {"x": {"datum": 260}, "y": {"datum": 8.17}, "text": {"field": "label"}}}
     ]},
    {"width": 209, "height": 137, "view": {"stroke": "#000", "strokeWidth": 2.5},
     "layer": [
      {"data": {"name": "spectra"}, "transform": [{"filter": "datum.T == 90"}],
       "mark": {"type": "line", "strokeWidth": 1.6, "opacity": 0.8, "clip": true},
       "encoding": {
        "x": {"field": "nm", "type": "quantitative", "scale": {"domain": [220, 800], "nice": false, "zero": false}, "axis": {"values": [220, 400, 600, 800], "title": "nm", "labelFlush": true, "tickCount": 10}},
        "y": {"field": "v", "type": "quantitative", "scale": {"domain": [-0.1, 9.8], "nice": false, "zero": false}, "axis": {"values": [0, 2, 4, 6, 8], "title": "T%", "labelOverlap": false, "tickCount": 10}},
        "color": {"field": "s", "type": "nominal", "scale": {"domain": ["Eucalyptus 1.05-355","Eucalyptus 355-500","Eucalyptus 500-1000","Sap wood 1.05-355","Sap wood 355-500","Sap wood 500-1000","Heart wood 1.05-355","Heart wood 355-500","Heart wood 500-1000"], "range": ["#EE44EE","#F28C38","#EE2B2B","#38DCEC","#3A84E4","#18187C","#EEEE30","#3EDF3E","#23822C"]}, "legend": null}
       }},
      {"data": {"values": [{"label": "90°C"}]}, "mark": {"type": "text", "fontSize": 22, "fontWeight": "bold", "align": "left", "baseline": "middle"},
       "encoding": {"x": {"datum": 270}, "y": {"datum": 8.12}, "text": {"field": "label"}}}
     ]}
   ], "bounds": "flush", "spacing": 53.6}
  ], "bounds": "flush", "spacing": 70.7}
 ], "spacing": 3.7}
],
"spacing": 82.5
}
